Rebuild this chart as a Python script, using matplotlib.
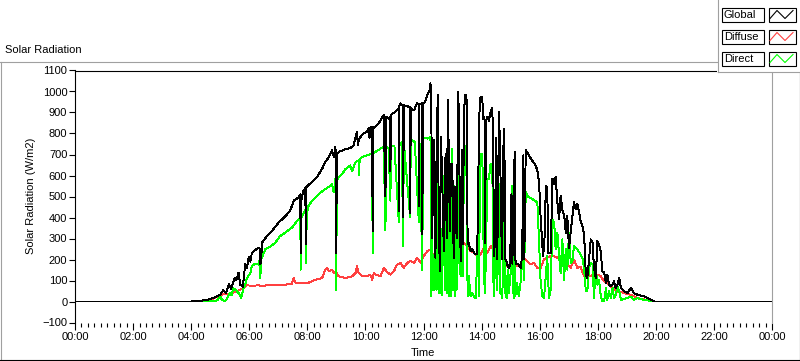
import numpy as np
import matplotlib.pyplot as plt
from matplotlib.lines import Line2D
from matplotlib.patches import Rectangle

plt.rcParams['font.family'] = ['Liberation Sans', 'DejaVu Sans']
plt.rcParams['font.size'] = 8

# (hour of day, W/m2)
global_pts = [
    (0.00, 0), (4.00, 0), (4.31, 3), (4.66, 11), (5.00, 32), (5.10, 53), (5.20, 40), (5.30, 82),
    (5.37, 60), (5.50, 112), (5.55, 100), (5.63, 136), (5.69, 80), (5.78, 70), (5.86, 177),
    (5.92, 160), (5.98, 211), (6.04, 190), (6.09, 232), (6.20, 245), (6.32, 256), (6.36, 250),
    (6.38, 176), (6.41, 200), (6.44, 280), (6.55, 300), (6.66, 320), (6.78, 336), (6.90, 356),
    (7.01, 376), (7.20, 400), (7.41, 432), (7.53, 480), (7.70, 496), (7.76, 510), (7.77, 232),
    (7.80, 490), (7.87, 528), (7.93, 540), (7.95, 272), (7.97, 545), (8.16, 570), (8.33, 592),
    (8.51, 632), (8.62, 664), (8.74, 688), (8.80, 705), (8.85, 720), (8.91, 690), (8.97, 736),
    (8.99, 232), (9.02, 700), (9.08, 712), (9.31, 725), (9.48, 730), (9.60, 744), (9.66, 784),
    (9.71, 808), (9.74, 744), (9.77, 770), (9.83, 784), (9.94, 800), (10.05, 808), (10.11, 824),
    (10.14, 780), (10.17, 830), (10.23, 832), (10.25, 336), (10.27, 830), (10.29, 824),
    (10.46, 848), (10.58, 880), (10.63, 888), (10.69, 500), (10.71, 880), (10.80, 870),
    (10.85, 880), (10.86, 620), (10.88, 890), (11.00, 900), (11.09, 912), (11.14, 920),
    (11.15, 430), (11.17, 930), (11.21, 944), (11.29, 930), (11.30, 400), (11.32, 935),
    (11.44, 930), (11.53, 925), (11.54, 420), (11.56, 920), (11.67, 910), (11.78, 944),
    (11.83, 940), (11.84, 456), (11.86, 940), (11.94, 944), (11.96, 320), (11.98, 944),
    (12.05, 950), (12.13, 984), (12.20, 1000), (12.24, 1040), (12.27, 900), (12.30, 304),
    (12.33, 600), (12.36, 768), (12.38, 400), (12.41, 208), (12.45, 700), (12.49, 984),
    (12.52, 500), (12.56, 144), (12.60, 784), (12.64, 600), (12.70, 240), (12.73, 500),
    (12.76, 704), (12.80, 300), (12.84, 960), (12.88, 600), (12.91, 336), (12.95, 656),
    (12.99, 656), (13.02, 400), (13.04, 208), (13.07, 544), (13.10, 544), (13.14, 300),
    (13.20, 1000), (13.24, 600), (13.28, 192), (13.33, 720), (13.36, 272), (13.39, 900),
    (13.44, 984), (13.48, 984), (13.52, 272), (13.56, 280), (13.62, 240), (13.68, 250),
    (13.74, 230), (13.80, 224), (13.85, 230), (13.88, 520), (13.91, 800), (13.94, 968),
    (13.98, 976), (14.02, 976), (14.06, 870), (14.10, 880), (14.12, 280), (14.15, 860),
    (14.20, 880), (14.25, 860), (14.31, 904), (14.37, 920), (14.40, 712), (14.43, 216),
    (14.46, 300), (14.50, 780), (14.54, 200), (14.60, 904), (14.64, 700), (14.68, 336),
    (14.71, 200), (14.74, 700), (14.78, 824), (14.82, 200), (14.86, 190), (14.90, 170),
    (14.94, 160), (14.98, 170), (15.03, 512), (15.06, 180), (15.10, 500), (15.14, 712),
    (15.16, 200), (15.20, 176), (15.25, 180), (15.30, 170), (15.36, 160), (15.40, 250),
    (15.44, 696), (15.47, 200), (15.52, 720), (15.60, 704), (15.70, 680), (15.80, 660),
    (15.86, 648), (15.92, 624), (15.98, 568), (16.03, 408), (16.09, 272), (16.12, 216),
    (16.18, 328), (16.21, 552), (16.26, 544), (16.30, 232), (16.38, 232), (16.44, 584),
    (16.50, 560), (16.55, 592), (16.61, 472), (16.67, 392), (16.72, 504), (16.80, 420),
    (16.84, 416), (16.90, 328), (16.95, 408), (17.01, 256), (17.07, 330), (17.13, 408),
    (17.18, 472), (17.24, 440), (17.30, 464), (17.36, 424), (17.41, 384), (17.47, 360),
    (17.53, 320), (17.59, 128), (17.64, 112), (17.70, 200), (17.76, 296), (17.82, 280),
    (17.87, 160), (17.93, 112), (17.99, 288), (18.04, 272), (18.10, 240), (18.16, 144),
    (18.22, 140), (18.28, 88), (18.33, 128), (18.39, 80), (18.45, 72), (18.51, 80),
    (18.56, 96), (18.62, 64), (18.68, 80), (18.74, 112), (18.80, 64), (18.91, 48),
    (19.02, 40), (19.14, 64), (19.25, 40), (19.37, 32), (19.60, 24), (19.83, 8), (19.94, 0),
    (24.00, 0),
]

diffuse_pts = [
    (0.00, 0), (4.30, 0), (4.70, 10), (5.00, 32), (5.20, 35), (5.40, 40), (5.57, 48), (5.80, 64),
    (5.92, 77), (6.10, 75), (6.32, 77), (6.44, 72), (6.60, 77), (6.90, 77), (7.24, 80),
    (7.47, 85), (7.53, 112), (7.59, 90), (7.82, 88), (8.05, 90), (8.28, 104), (8.51, 112),
    (8.62, 152), (8.68, 160), (8.74, 144), (8.85, 152), (8.91, 136), (8.97, 144), (9.08, 120),
    (9.31, 112), (9.54, 120), (9.66, 136), (9.71, 168), (9.77, 136), (9.89, 120), (10.06, 120),
    (10.17, 128), (10.23, 104), (10.29, 136), (10.34, 128), (10.52, 120), (10.63, 160),
    (10.75, 140), (10.86, 128), (10.98, 144), (11.09, 176), (11.21, 184), (11.32, 160),
    (11.44, 184), (11.55, 192), (11.67, 184), (11.78, 208), (11.90, 184), (12.01, 216),
    (12.13, 240), (12.24, 248), (12.36, 216), (12.47, 232), (12.59, 208), (12.70, 224),
    (12.82, 184), (12.93, 216), (13.04, 232), (13.16, 248), (13.28, 256), (13.39, 280),
    (13.51, 264), (13.62, 240), (13.74, 232), (13.85, 216), (13.97, 224), (14.08, 256),
    (14.20, 232), (14.31, 264), (14.43, 248), (14.54, 256), (14.66, 240), (14.77, 208),
    (14.89, 168), (15.00, 160), (15.12, 176), (15.23, 168), (15.35, 176), (15.46, 208),
    (15.57, 192), (15.69, 176), (15.80, 184), (15.92, 160), (16.03, 160), (16.15, 200),
    (16.26, 208), (16.38, 216), (16.49, 216), (16.61, 208), (16.72, 216), (16.84, 200),
    (16.95, 180), (17.07, 160), (17.18, 200), (17.30, 160), (17.41, 165), (17.53, 120),
    (17.64, 125), (17.76, 120), (17.87, 130), (17.99, 128), (18.10, 120), (18.22, 96),
    (18.33, 90), (18.45, 72), (18.56, 60), (18.68, 48), (18.79, 45), (18.91, 40), (19.02, 35),
    (19.14, 32), (19.25, 25), (19.37, 16), (19.60, 10), (19.83, 5), (19.94, 0), (24.00, 0),
]

direct_pts = [
    (0.00, 0), (4.30, 0), (4.90, 5), (5.00, 24), (5.05, 10), (5.15, 0), (5.23, 10), (5.32, 40),
    (5.40, 30), (5.45, 64), (5.57, 50), (5.69, 30), (5.72, 16), (5.80, 64), (5.86, 80),
    (5.92, 112), (6.04, 136), (6.09, 168), (6.20, 180), (6.32, 176), (6.36, 200), (6.38, 112),
    (6.41, 200), (6.55, 248), (6.75, 264), (6.90, 280), (7.05, 310), (7.24, 328), (7.47, 352),
    (7.70, 392), (7.76, 400), (7.77, 152), (7.80, 400), (7.95, 440), (7.96, 184), (7.98, 448),
    (7.99, 376), (8.01, 448), (8.16, 480), (8.40, 512), (8.62, 536), (8.80, 550), (8.85, 560),
    (8.91, 520), (8.97, 584), (8.99, 56), (9.02, 580), (9.08, 590), (9.20, 608), (9.31, 630),
    (9.48, 648), (9.54, 620), (9.66, 664), (9.77, 672), (9.78, 600), (9.80, 676), (9.89, 688),
    (10.06, 696), (10.23, 704), (10.25, 232), (10.27, 704), (10.34, 712), (10.52, 728),
    (10.63, 736), (10.69, 340), (10.71, 736), (10.80, 730), (10.86, 480), (10.88, 740),
    (11.00, 740), (11.15, 376), (11.17, 745), (11.25, 760), (11.30, 264), (11.32, 760),
    (11.54, 400), (11.56, 770), (11.70, 760), (11.84, 376), (11.86, 770), (11.96, 150),
    (11.98, 780), (12.13, 776), (12.24, 784), (12.26, 24), (12.30, 312), (12.33, 56),
    (12.38, 56), (12.41, 624), (12.45, 56), (12.49, 744), (12.52, 40), (12.56, 40),
    (12.60, 344), (12.64, 32), (12.70, 600), (12.73, 56), (12.76, 616), (12.80, 40),
    (12.84, 700), (12.88, 24), (12.91, 408), (12.95, 24), (12.99, 728), (13.02, 56),
    (13.04, 552), (13.07, 24), (13.10, 408), (13.14, 56), (13.20, 712), (13.24, 168),
    (13.28, 120), (13.33, 424), (13.36, 120), (13.39, 700), (13.44, 740), (13.48, 600),
    (13.52, 24), (13.56, 120), (13.62, 24), (13.68, 40), (13.74, 24), (13.80, 16),
    (13.85, 216), (13.88, 392), (13.91, 24), (13.94, 512), (13.97, 704), (14.02, 700),
    (14.04, 600), (14.08, 120), (14.12, 40), (14.15, 248), (14.20, 584), (14.25, 584),
    (14.31, 656), (14.37, 656), (14.40, 120), (14.43, 24), (14.46, 184), (14.50, 408),
    (14.54, 56), (14.60, 560), (14.64, 40), (14.68, 40), (14.71, 16), (14.74, 152),
    (14.78, 520), (14.82, 40), (14.86, 16), (14.90, 152), (14.94, 40), (15.03, 184),
    (15.06, 552), (15.10, 16), (15.14, 400), (15.16, 24), (15.22, 88), (15.28, 24),
    (15.34, 88), (15.40, 200), (15.43, 392), (15.46, 104), (15.52, 520), (15.60, 500),
    (15.75, 488), (15.92, 472), (15.98, 280), (16.03, 104), (16.09, 24), (16.15, 16),
    (16.21, 120), (16.26, 216), (16.32, 16), (16.38, 56), (16.44, 392), (16.50, 376),
    (16.55, 248), (16.61, 328), (16.67, 216), (16.72, 136), (16.78, 296), (16.84, 104),
    (16.90, 248), (16.95, 152), (17.01, 328), (17.07, 184), (17.13, 192), (17.18, 264),
    (17.30, 248), (17.41, 224), (17.47, 208), (17.53, 160), (17.59, 48), (17.64, 48),
    (17.70, 160), (17.76, 184), (17.82, 176), (17.87, 16), (17.93, 160), (17.99, 80),
    (18.04, 104), (18.10, 32), (18.16, 0), (18.22, 0), (18.28, 64), (18.33, 8), (18.39, 48),
    (18.45, 16), (18.51, 64), (18.56, 16), (18.62, 32), (18.68, 72), (18.74, 48), (18.80, 8),
    (19.02, 16), (19.14, 24), (19.25, 8), (19.37, 16), (19.60, 8), (19.94, 0), (24.00, 0),
]

series_names = ['Global', 'Diffuse', 'Direct']
series_colors = ['#000000', '#ff4040', '#00ff00']

hour_ticks = list(range(0, 25, 2))
hour_labels = [f"{h % 24:02d}:00" for h in hour_ticks]
y_ticks = list(range(-100, 1101, 100))

W, H = 800, 361


def fx(px):
    return px / W


def fy(py):
    return 1 - py / H


fig = plt.figure(figsize=(W / 100, H / 100), dpi=100)
fig.patch.set_facecolor('white')

ax = fig.add_axes([fx(75), fy(322.5), fx(772) - fx(75), fy(70.5) - fy(322.5)])

# draw diffuse, direct, then global on top
for pts, col in [(diffuse_pts, series_colors[1]), (direct_pts, series_colors[2]),
                 (global_pts, series_colors[0])]:
    t, v = zip(*pts)
    ax.plot(t, v, color=col, lw=0.7, antialiased=False)

ax.set_xlim(0, 24)
ax.set_ylim(-100, 1100)
ax.set_xticks(hour_ticks)
ax.set_xticklabels(hour_labels)
ax.set_xticks(np.arange(0, 24.001, 2 / 9), minor=True)
ax.set_yticks(y_ticks)

ax.spines['bottom'].set_visible(False)
ax.spines['right'].set_color('#a0a0a0')
for s in ['left', 'top', 'right']:
    ax.spines[s].set_linewidth(0.8)

ax.tick_params(axis='x', which='major', length=5, width=0.8, pad=2, labelsize=8)
ax.tick_params(axis='x', which='minor', length=3, width=0.8)
ax.tick_params(axis='y', length=4, width=0.8, pad=1.5, labelsize=8)

# titles and axis labels
fig.text(fx(5), fy(50), 'Solar Radiation', ha='left', va='center', fontsize=8)
fig.text(fx(31), fy(196), 'Solar Radiation (W/m2)', rotation=90, ha='center', va='center',
         fontsize=8)
fig.text(fx(423), fy(353), 'Time', ha='center', va='center', fontsize=8)

# panel frame
fig.add_artist(Line2D([0, fx(717)], [fy(61.5), fy(61.5)], color='#a0a0a0', lw=0.8))
fig.add_artist(Line2D([fx(0.5), fx(0.5)], [fy(61.5), fy(359.5)], color='#a0a0a0', lw=0.8))
fig.add_artist(Line2D([0, 1], [fy(359.5), fy(359.5)], color='black', lw=0.8))
fig.add_artist(Line2D([fx(799.5), fx(799.5)], [fy(72), fy(359.5)], color='black', lw=0.8))

# legend panel
fig.add_artist(Rectangle((fx(717), fy(72)), fx(800) - fx(717), fy(0) - fy(72),
                         transform=fig.transFigure, facecolor='white', edgecolor='none'))
fig.add_artist(Line2D([fx(717.5), fx(717.5)], [fy(0), fy(72)], color='#a0a0a0', lw=0.8))
fig.add_artist(Line2D([fx(717.5), 1], [fy(72), fy(72)], color='#a0a0a0', lw=0.8))

for i, (name, col) in enumerate(zip(series_names, series_colors)):
    top = 7.5 + 22 * i
    fig.add_artist(Rectangle((fx(721.5), fy(top + 14)), fx(764) - fx(721.5), fy(top) - fy(top + 14),
                             transform=fig.transFigure, facecolor='white', edgecolor='black', lw=0.8))
    fig.text(fx(724), fy(top + 7), name, ha='left', va='center', fontsize=8)
    fig.add_artist(Rectangle((fx(768.5), fy(top + 14)), fx(796) - fx(768.5), fy(top) - fy(top + 14),
                             transform=fig.transFigure, facecolor='white', edgecolor='black', lw=0.8))
    zx = [770, 777, 785, 793]
    zy = [top + 11, top + 3, top + 11, top + 3]
    fig.add_artist(Line2D([fx(p) for p in zx], [fy(p) for p in zy], color=col, lw=0.8))

fig.savefig('out.png', dpi=100, facecolor='white')
